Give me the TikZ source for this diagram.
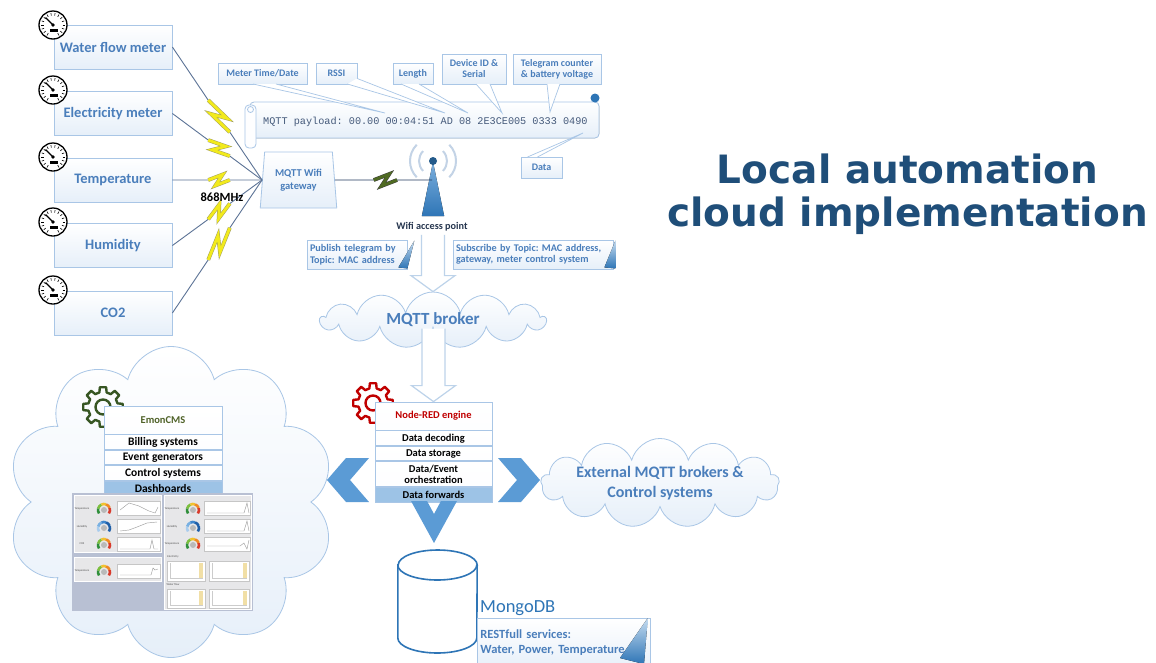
\documentclass[tikz,border=0pt]{standalone}
\usepackage{fontspec}
\setmainfont{Carlito}
\newfontfamily\titlefont{DejaVu Sans}
\newfontfamily\payfont{Liberation Mono}
\usetikzlibrary{shapes.geometric,shapes.symbols,calc}
\frenchspacing

\definecolor{bxline}{HTML}{A9C6E6}
\definecolor{bxtext}{HTML}{4A7EBB}
\definecolor{bxfill}{HTML}{E6EFF9}
\definecolor{deepblue}{HTML}{1F4E79}
\definecolor{midblue}{HTML}{2E75B6}
\definecolor{chevblue}{HTML}{5B9BD5}
\definecolor{rowblue}{HTML}{9DC3E6}
\definecolor{nrred}{HTML}{C00000}
\definecolor{emgreen}{HTML}{375623}
\definecolor{emtitle}{HTML}{4F6228}
\definecolor{linkline}{HTML}{5C7396}
\definecolor{boltyellow}{HTML}{F2EA1C}
\definecolor{boltedge}{HTML}{A3A05A}
\definecolor{wifibolt}{HTML}{4F6A22}
\definecolor{wifiline}{HTML}{22395E}
\definecolor{wavegray}{HTML}{C3D3E6}
\definecolor{paytext}{HTML}{44597A}
\definecolor{aptext}{HTML}{26364F}
\definecolor{hollowline}{HTML}{BDD3EA}
\definecolor{dashbg}{HTML}{B8C0D3}
\definecolor{panelgray}{HTML}{E7E7E9}
\definecolor{gA}{HTML}{2F8F3A}
\definecolor{gB}{HTML}{7CBF3F}
\definecolor{gC}{HTML}{F2C12E}
\definecolor{gD}{HTML}{EF8A25}
\definecolor{gE}{HTML}{D93A2B}
\definecolor{hA}{HTML}{1F5FA8}
\definecolor{hB}{HTML}{3F86CC}
\definecolor{hC}{HTML}{78B0E2}
\definecolor{hD}{HTML}{A9CDEE}
\definecolor{barfill}{HTML}{F1DFA6}

% radio link: plain line with a lightning zig-zag in the middle
\newcommand\zap[5]{%
  \draw[#1, line width=0.9pt] (#3) -- ($(#3)!0.40!(#4)$);
  \draw[#1, line width=0.9pt] ($(#3)!0.64!(#4)$) -- (#4);
  \draw[line width=0.5pt, line join=miter, miter limit=6, #2]
    ($(#3)!0.40!(#4)$) -- ($(#3)!0.56!(#4)!#5!90:(#4)$)
    -- ($(#3)!0.48!(#4)!#5!-90:(#4)$) -- ($(#3)!0.64!(#4)$);
}
% wide outlined arrow pointing down, shaft starting at #1, tip at #2
\newcommand\hollowdown[2]{%
  \draw[hollow] let \p1=(#1), \p2=(#2) in
    (\x2-11.5pt,\y1) -- (\x2-11.5pt,\y2+16pt) -- (\x2-22pt,\y2+16pt)
    -- (\x2,\y2) -- (\x2+22pt,\y2+16pt) -- (\x2+11.5pt,\y2+16pt) -- (\x2+11.5pt,\y1);
}
% small dashboard chart with a trace
\newcommand\minichart[5]{%
  \begin{scope}[shift={(#1,#2)}]
    \filldraw[fill=white, draw=gray!45, line width=0.3pt] (0,0) rectangle (#3,#4);
    \draw[gray!75, line width=0.45pt] plot coordinates {#5};
  \end{scope}}
% small dashboard bar chart
\newcommand\barchart[4]{%
  \begin{scope}[shift={(#1,#2)}]
    \filldraw[fill=white, draw=gray!45, line width=0.3pt] (0,0) rectangle (#3,#4);
    \draw[gray!40, line width=0.3pt] (3,#4-3) -- (#3-2,#4-3) (3,2) -- (3,#4-3);
    \fill[barfill] (#3-6,2) rectangle (#3-2.5,#4-3);
  \end{scope}}

\tikzset{
  box/.style={draw=bxline, line width=0.8pt, top color=white, bottom color=bxfill, text=bxtext, align=center},
  meter/.style={box, minimum width=118pt, minimum height=44pt, font=\fontsize{14.5}{16}\selectfont\bfseries},
  tag/.style={box, inner sep=2pt, font=\fontsize{10}{11}\selectfont\bfseries},
  note/.style={box, inner sep=3pt, align=left, font=\fontsize{10.2}{11.5}\selectfont\bfseries},
  row/.style={draw=bxline, line width=0.8pt, top color=white, bottom color=white!92!bxfill, minimum width=117pt, inner sep=0pt, align=center, text=black, font=\fontsize{10.5}{11}\selectfont\bfseries},
  emrow/.style={row, minimum width=118pt, font=\fontsize{11.5}{12}\selectfont\bfseries},
  hilite/.style={top color=rowblue, bottom color=rowblue},
  puff/.style={cloud, cloud ignores aspect, inner sep=0pt, draw=bxline, line width=0.8pt, top color=white, bottom color=bxfill, text=bxtext, align=center},
  hollow/.style={draw=hollowline, fill=white, line width=1.2pt, line join=miter},
  wedge/.style={draw=bxline, line width=0.7pt, fill=white},
  fold/.style={top color=chevblue!35, bottom color=midblue},
  tiny/.style={font=\fontsize{2.8}{3}\selectfont, text=black!70, inner sep=0pt},
  gauge/.pic={
    \fill[white] (0,0) circle (14pt);
    \draw[line width=1.3pt] (0,0) circle (14pt);
    \foreach \a in {-60,-40,...,240} \draw[line width=0.6pt] (\a:9.5pt) -- (\a:12pt);
    \draw[line width=1.2pt] (0,0) -- (135:10.5pt);
    \fill (0,0) circle (1.8pt);
    \fill (-3pt,-4pt) rectangle (4.5pt,-7pt);
  },
  gear/.pic={
    \draw[line width=2.4pt, line join=round] (-14:15pt)
      \foreach \a in {0,45,...,315} { -- (\a-14:15pt) -- (\a-9:20pt) -- (\a+9:20pt) -- (\a+14:15pt) } -- cycle;
    \draw[line width=2.4pt] (0,0) circle (7.5pt);
  },
  minigauge/.pic={
    \foreach \s/\e/\c in {215/165/gA, 165/115/gB, 115/70/gC, 70/20/gD, 20/-35/gE}
      \draw[\c, line width=2.6pt] (\s:6pt) arc[start angle=\s, end angle=\e, radius=6pt];
    \fill[gray!55] (0,0) circle (3pt);
  },
  minigaugeblue/.pic={
    \foreach \s/\e/\c in {215/165/hD, 165/115/hC, 115/70/hB, 70/20/hA, 20/-35/hA}
      \draw[\c, line width=2.6pt] (\s:6pt) arc[start angle=\s, end angle=\e, radius=6pt];
    \fill[gray!55] (0,0) circle (3pt);
  }
}

\begin{document}
\begin{tikzpicture}[x=1pt, y=-1pt]
\useasboundingbox (0,0) rectangle (1156,662);
\fill[white] (0,0) rectangle (1156,662);

% ---------- meters ----------
\node[meter] (water) at (113,47) {Water flow meter};
\node[meter] (elec) at (113,113.5) {Electricity meter};
\node[meter] (temp) at (113,180) {Temperature};
\node[meter] (hum) at (113,245.5) {Humidity};
\node[meter] (co2) at (113,313) {CO2};
\foreach \y in {25,90,157,222,290} \pic at (53,\y) {gauge};

% ---------- gateway ----------
\node[trapezium, trapezium left angle=83, trapezium right angle=83, trapezium stretches=true,
      minimum width=77pt, minimum height=56pt, box, font=\fontsize{10.5}{12.5}\selectfont\bfseries]
      (gw) at (298.5,180) {MQTT Wifi\\gateway};

\foreach \m in {water,elec,temp,hum,co2}
  \zap{linkline}{draw=boltedge, double=boltyellow, double distance=2.8pt}{\m.east}{gw.west}{5.5pt};
\node[font=\fontsize{12.5}{13}\selectfont\bfseries] (freq) at (222,197) {868MHz};

% ---------- access point ----------
\coordinate (apdot) at (433,161);
\coordinate (apin) at (432,180);
\foreach \r in {14,23} {
  \draw[wavegray, line width=2pt] ($(apdot)+(-45:\r pt)$) arc[start angle=-45, end angle=45, radius=\r pt];
  \draw[wavegray, line width=2pt] ($(apdot)+(135:\r pt)$) arc[start angle=135, end angle=225, radius=\r pt];
}
\node[inner sep=0pt, minimum width=22pt, minimum height=54pt] (ap) at (433,189) {};
\fill[top color=chevblue!80, bottom color=midblue] (ap.south west) -- (ap.north) -- (ap.south east) -- cycle;
\fill[deepblue!70!midblue] (apdot) circle (4pt);
\zap{wifiline}{draw=black!75, double=wifibolt, double distance=2.8pt}{gw.east}{apin}{6pt};
\node[font=\fontsize{10.2}{11}\selectfont\bfseries, text=aptext] (aplbl) at (432,227) {Wifi access point};

% ---------- payload scroll ----------
\filldraw[draw=bxline, line width=0.8pt, top color=white, bottom color=bxfill, rounded corners=4pt]
  (250,102) -- (599,102) -- (599,138) -- (250,138) -- cycle;
\filldraw[draw=bxline, line width=0.8pt, fill=white!94!bxfill, rounded corners=4pt] (245,105) rectangle (256,148);
\draw[bxline, line width=0.8pt] (250.5,109.5) circle (3pt);
\fill[midblue] (595,98) circle (4.5pt);
\node[anchor=base west, inner sep=0pt, font=\payfont\fontsize{10.2}{12}\selectfont, text=paytext]
  (pay) at (263,124.5) {MQTT payload: 00.00 00:04:51 AD 08 2E3CE005 0333 0490};

\coordinate (pTime) at (385,113);
\coordinate (pRssi) at (445,113);
\coordinate (pLen) at (468,113);
\coordinate (pDev) at (502,113);
\coordinate (pTel) at (550,112);
\coordinate (pData) at (583,133);

\node[tag, minimum width=89pt, minimum height=21pt] (ctime) at (262.5,73.5) {Meter Time/Date};
\node[tag, minimum width=41pt, minimum height=21pt] (crssi) at (336.5,73.5) {RSSI};
\node[tag, minimum width=40pt, minimum height=21pt] (clen) at (413,73.5) {Length};
\node[tag, minimum width=64pt, minimum height=30pt] (cdev) at (474,69) {Device ID \&\\Serial};
\node[tag, minimum width=88pt, minimum height=30pt] (ctel) at (557,69) {Telegram counter\\\& battery voltage};
\node[tag, minimum width=41pt, minimum height=21pt] (cdata) at (541.5,167.5) {Data};

\filldraw[wedge] ($(ctime.south)+(-9.5,-0.4)$) -- (pTime) -- ($(ctime.south)+(13.5,-0.4)$);
\filldraw[wedge] ($(crssi.south east)+(-10,-0.4)$) -- (pRssi) -- ($(crssi.south east)+(-0.4,-6)$);
\filldraw[wedge] ($(clen.south)+(-12,-0.4)$) -- (pLen) -- ($(clen.south)+(6,-0.4)$);
\filldraw[wedge] ($(cdev.south)+(2,-0.4)$) -- (pDev) -- ($(cdev.south)+(16,-0.4)$);
\filldraw[wedge] ($(ctel.south)+(-10,-0.4)$) -- (pTel) -- ($(ctel.south)+(3,-0.4)$);
\filldraw[wedge] ($(cdata.north)+(-14,0.4)$) -- (pData) -- ($(cdata.north)+(-4,0.4)$);

% ---------- publish / subscribe ----------
\node[note, minimum width=100pt, minimum height=29pt, text width=94pt] (pub) at (357,254.5)
  {Publish telegram by\\Topic: MAC address};
\node[note, minimum width=160pt, minimum height=29pt, text width=154pt] (sub) at (533,254.5)
  {Subscribe by Topic: MAC address,\\gateway, meter control system};
\fill[fold] ($(pub.north east)+(7,1)$) -- ($(pub.south east)+(-9,-2)$) -- ($(pub.south east)+(0,-1)$) -- cycle;
\fill[fold] ($(sub.north east)+(2,1)$) -- ($(sub.south east)+(-9,-2)$) -- ($(sub.south east)+(2,-1)$) -- cycle;

% ---------- broker ----------
\node[puff, cloud puffs=13, minimum width=225pt, minimum height=56pt, font=\fontsize{17}{19}\selectfont\bfseries]
  (broker) at (433,320) {MQTT broker};
\hollowdown{aplbl.south}{broker.north}

% ---------- EmonCMS cloud ----------
\node[puff, cloud puffs=10, minimum width=327pt, minimum height=311pt] (cloudL) at (171,502) {};
\pic[emgreen] at (103,407) {gear};
\node[emrow, minimum height=28pt, text=emtitle, font=\fontsize{10.5}{11}\selectfont\bfseries] (em) at (163,420) {EmonCMS};
\node[emrow, minimum height=15pt, anchor=north] (em1) at (em.south) {Billing systems};
\node[emrow, minimum height=14pt, anchor=north] (em2) at (em1.south) {Event generators};
\node[emrow, minimum height=15pt, anchor=north] (em3) at (em2.south) {Control systems};
\node[emrow, hilite, minimum height=15pt, anchor=north] (em4) at (em3.south) {Dashboards};

% dashboard screenshot
\fill[dashbg] (72,493) rectangle (253,611);
\filldraw[fill=panelgray, draw=white, line width=0.5pt] (74,495) rectangle (161,552);
\filldraw[fill=panelgray, draw=white, line width=0.5pt] (74,557) rectangle (161,581);
\filldraw[fill=panelgray, draw=white, line width=0.5pt] (164,495) rectangle (251,609);
\node[tiny] at (82,509) {Temperature};
\node[tiny] at (82,527) {Humidity};
\node[tiny] at (82,544) {CO2};
\node[tiny] at (82,571) {Temperature};
\node[tiny] at (172,509) {Temperature};
\node[tiny] at (172,527) {Humidity};
\node[tiny] at (172,544) {Temperature};
\node[tiny] at (173,557) {Electricity};
\node[tiny] at (173,585) {Water flow};
\pic at (104,510) {minigauge};
\pic at (104,528) {minigaugeblue};
\pic at (104,545) {minigauge};
\pic at (104,572) {minigauge};
\pic at (193,510) {minigauge};
\pic at (193,528) {minigaugeblue};
\pic at (193,545) {minigauge};
\minichart{117}{501}{43}{14}{(3,9) (12,2) (22,5) (32,10) (38,12) (41,6)}
\minichart{117}{519}{43}{14}{(3,12) (12,11) (20,8) (30,4) (40,3)}
\minichart{117}{537}{43}{14}{(3,12) (33,12) (35,3) (37,12) (41,12)}
\minichart{117}{564}{43}{14}{(3,11) (34,11) (36,4) (38,6) (41,5)}
\minichart{204}{501}{46}{14}{(3,12) (40,12) (43,2) (45,12)}
\minichart{204}{519}{46}{14}{(3,12) (40,12) (43,2) (45,12)}
\minichart{204}{537}{46}{14}{(3,9) (36,9) (40,6) (43,12) (45,3)}
\barchart{167}{561}{38}{20}
\barchart{209}{561}{40}{20}
\barchart{167}{589}{38}{19}
\barchart{209}{589}{40}{19}

% ---------- Node-RED ----------
\pic[nrred] at (373,403) {gear};
\node[row, minimum height=28pt, text=nrred] (nr) at (433.5,416) {Node-RED engine};
\node[row, minimum height=15pt, anchor=north] (nr1) at (nr.south) {Data decoding};
\node[row, minimum height=14pt, anchor=north] (nr2) at (nr1.south) {Data storage};
\node[row, minimum height=25pt, anchor=north, font=\fontsize{10.5}{11}\selectfont\bfseries] (nr3) at (nr2.south) {Data/Event\\orchestration};
\node[row, hilite, minimum height=15pt, anchor=north] (nr4) at (nr3.south) {Data forwards};
\hollowdown{broker.south}{nr.north}

% ---------- external systems ----------
\node[puff, cloud puffs=13, minimum width=230pt, minimum height=87pt, font=\fontsize{16}{19.5}\selectfont\bfseries]
  (ext) at (660,483) {External MQTT brokers \&\\Control systems};

% ---------- MongoDB ----------
\node[inner sep=0pt, minimum width=79pt, minimum height=103pt] (db) at (437.5,601.5) {};
\filldraw[draw=midblue, line width=1.6pt, fill=white]
  (db.west |- 0,565) -- (db.west |- 0,638) arc[start angle=180, end angle=360, x radius=39.5pt, y radius=15pt]
  -- (db.east |- 0,565) arc[start angle=0, end angle=180, x radius=39.5pt, y radius=15pt] -- cycle;
\draw[midblue, line width=1.6pt] (db.west |- 0,565) arc[start angle=180, end angle=360, x radius=39.5pt, y radius=15pt];
\node[anchor=base west, inner sep=0pt, text=midblue, font=\fontsize{18.5}{20}\selectfont] (dbname) at (480,612) {MongoDB};
\node[draw=bxline, line width=0.8pt, top color=white, bottom color=bxfill, anchor=north west, minimum width=173pt,
      minimum height=52pt, text width=167pt, align=left, inner sep=3pt, text=bxtext,
      font=\fontsize{12.5}{15}\selectfont\bfseries, text depth=20pt] (rest) at (477,618)
  {RESTfull services:\\Water, Power, Temperature};
\fill[fold] ($(rest.north east)+(-3,0)$) -- (620,658) -- (644,664) -- cycle;

% ---------- chevrons from the engine ----------
\fill[chevblue] (348,480) +(21,-22) -- +(-2,-22) -- +(-21,0) -- +(-2,22) -- +(21,22) -- +(2,0) -- cycle;
\fill[chevblue] (519,480) +(-21,-22) -- +(2,-22) -- +(21,0) -- +(2,22) -- +(-21,22) -- +(-2,0) -- cycle;
\fill[chevblue] (434,522) +(-23,-21) -- +(-7,-21) -- +(0,-8) -- +(7,-21) -- +(23,-21) -- +(0,21) -- cycle;

% ---------- title ----------
\node[anchor=base, text=deepblue, font=\titlefont\bfseries\fontsize{39}{44}\selectfont] (t1) at (907.5,183) {Local automation};
\node[anchor=base, text=deepblue, font=\titlefont\bfseries\fontsize{39}{44}\selectfont] (t2) at (907.5,226) {cloud implementation};
\end{tikzpicture}
\end{document}
